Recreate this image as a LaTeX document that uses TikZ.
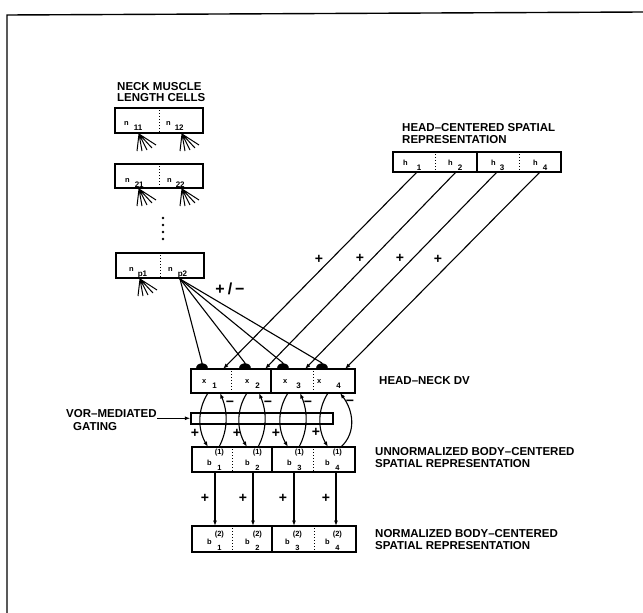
\documentclass[tikz,border=0pt]{standalone}
\usepackage{fontspec}
\setmainfont{Liberation Sans}
\usetikzlibrary{arrows.meta}
\newcommand\cellab[4]{{\fontsize{7.5}{7.5}\selectfont #1}\kern#3pt\raisebox{#4pt}{\fontsize{8}{8}\selectfont #2}}
\newcommand\blab[4]{{\fontsize{7.5}{7.5}\selectfont b}\kern3pt\raisebox{#3pt}{\rlap{\fontsize{7.5}{7.5}\selectfont(#1)}}\kern2.5pt\raisebox{#4pt}{\fontsize{7.5}{7.5}\selectfont #2}}
\begin{document}
\begin{tikzpicture}[x=1pt,y=-1pt,
 lbl/.style={font=\fontsize{11.5}{12}\selectfont\bfseries,inner sep=0,anchor=west},
 ctxt/.style={font=\bfseries,inner sep=0,anchor=base west},
 cellbox/.style={draw,line width=1.6pt,inner sep=0,minimum width=#1},
 conn/.style={line width=1.1pt},
 arr/.style={conn,-{Latex[length=5.5pt,width=4pt]}},
 sgn/.style={font=\fontsize{14}{14}\selectfont\bfseries,inner sep=0},
 divd/.style={dotted,line width=1pt},
 fanl/.style={line width=1pt}]
\useasboundingbox (0,0) rectangle (643,613);
\fill[white] (0,0) rectangle (643,613);
\draw[line width=1.4pt] (643,12) -- (7,15) -- (7,613);

% boxes
\node[cellbox=88pt,minimum height=25pt] (nk1) at (159,120.5) {};
\node[cellbox=88pt,minimum height=24pt] (nk2) at (159,176) {};
\node[cellbox=88pt,minimum height=25pt] (nk3) at (160,265.5) {};
\node[cellbox=84pt,minimum height=20pt] (hdA) at (435,162) {};
\node[cellbox=84pt,minimum height=20pt] (hdB) at (519,162) {};
\node[cellbox=80pt,minimum height=24pt] (dvA) at (231,381) {};
\node[cellbox=84pt,minimum height=24pt] (dvB) at (313,381) {};
\node[cellbox=80pt,minimum height=25pt] (unA) at (232,459.5) {};
\node[cellbox=83pt,minimum height=25pt] (unB) at (313.5,459.5) {};
\node[cellbox=80pt,minimum height=26pt] (noA) at (232,539) {};
\node[cellbox=84pt,minimum height=26pt] (noB) at (314,539) {};
\node[draw,line width=1.4pt,inner sep=0,minimum width=142pt,minimum height=11pt] (gate) at (262,418.5) {};
\foreach \n in {nk1,nk2,nk3,hdA,hdB,dvA,dvB,unA,unB,noA,noB} \draw[divd] (\n.north) -- (\n.south);

% cell labels
\node[ctxt] (ln11) at (124,125.5) {\cellab{n}{11}{5}{-5}};
\node[ctxt] (ln12) at (166,125.5) {\cellab{n}{12}{4}{-5}};
\node[ctxt] (ln21) at (125,182) {\cellab{n}{21}{5}{-5}};
\node[ctxt] (ln22) at (167,182) {\cellab{n}{22}{4}{-5}};
\node[ctxt] (lnp1) at (129,271) {\cellab{n}{p1}{4}{-5}};
\node[ctxt] (lnp2) at (168,271) {\cellab{n}{p2}{5}{-5}};
\node[ctxt] (lh1) at (403,165.5) {\cellab{h}{1}{9}{-5}};
\node[ctxt] (lh2) at (448,165.5) {\cellab{h}{2}{5}{-5}};
\node[ctxt] (lh3) at (491,165.5) {\cellab{h}{3}{4}{-5}};
\node[ctxt] (lh4) at (533,165.5) {\cellab{h}{4}{5}{-5}};
\node[ctxt] (lx1) at (202,383) {\cellab{x}{1}{6}{-5}};
\node[ctxt] (lx2) at (245,383) {\cellab{x}{2}{6}{-5}};
\node[ctxt] (lx3) at (283,383) {\cellab{x}{3}{9}{-5}};
\node[ctxt] (lx4) at (317,383) {\cellab{x}{4}{15}{-5}};
\node[ctxt] (lb1) at (207,465.5) {\blab{1}{1}{11}{-4.5}};
\node[ctxt] (lb2) at (245,465.5) {\blab{1}{2}{11}{-4.5}};
\node[ctxt] (lb3) at (287,465.5) {\blab{1}{3}{11}{-4.5}};
\node[ctxt] (lb4) at (325,465.5) {\blab{1}{4}{11}{-4.5}};
\node[ctxt] (lc1) at (207,544) {\blab{2}{1}{8}{-6}};
\node[ctxt] (lc2) at (245,544) {\blab{2}{2}{8}{-6}};
\node[ctxt] (lc3) at (285,544) {\blab{2}{3}{8}{-6}};
\node[ctxt] (lc4) at (325,544) {\blab{2}{4}{8}{-6}};

% input fans
\foreach \nm/\x/\y in {f11/139/134, f12/182/134, f21/139/189, f22/182/189, fp1/140/279}{
 \coordinate (\nm) at (\x,\y);
 \draw[fanl] (\nm) -- ++(-2,17) (\nm) -- ++(3,17) (\nm) -- ++(8,16) (\nm) -- ++(13,14) (\nm) -- ++(17,11);
}
\foreach \y in {218,225,232,239} \fill (163,\y) circle[radius=1.3];

% neck to DV
\coordinate (np2o) at (180,279);
\foreach \i/\x in {1/202,2/245,3/283,4/322}{
 \coordinate (s\i) at (\x,363);
 \fill (\x-6,369) .. controls (\x-6,361) and (\x+6,361) .. (\x+6,369) -- cycle;
 \draw[conn] (np2o) -- (s\i);
}
% head-centered to DV
\foreach \i/\a/\b in {1/417/223, 2/456/265, 3/497/305, 4/540/345}{
 \coordinate (ho\i) at (\a,172); \coordinate (t\i) at (\b,369);
 \draw[arr] (ho\i) -- (t\i);
}
% DV <-> unnormalized
\foreach \i/\d/\u in {1/208/219, 2/247/258, 3/288/299}{
 \coordinate (dT\i) at (\d,393); \coordinate (dB\i) at (\d,447);
 \coordinate (uB\i) at (\u,447); \coordinate (uT\i) at (\u+1,393);
 \draw[arr] (dT\i) .. controls (\d-11,410) and (\d-10,430) .. (dB\i);
 \draw[arr] (uB\i) .. controls (\u+9,430) and (\u+9,412) .. (uT\i);
}
\coordinate (dT4) at (328,393); \coordinate (dB4) at (328,447);
\coordinate (uB4) at (341,447); \coordinate (uT4) at (340,393);
\draw[arr] (dT4) .. controls (317,410) and (318,430) .. (dB4);
\draw[arr] (uB4) .. controls (357,432) and (353,410) .. (uT4);
% unnormalized -> normalized
\foreach \i/\x in {1/215,2/253,3/294,4/336}{
 \coordinate (vt\i) at (\x,472); \coordinate (vb\i) at (\x,526);
 \draw[arr] (vt\i) -- (vb\i);
}

% signs
\foreach \x/\y in {319/259, 360/258, 400/258, 438/259, 195/433, 237/433, 276/433, 316/432, 205/498, 243/498, 283/498, 326/498}
 \node[sgn] (pl\x) at (\x,\y) {+};
\foreach \x/\y in {230/404, 268/404, 308/404, 350/403}
 \node[sgn] (mi\x) at (\x,\y) {−};
\node[font=\fontsize{16}{16}\selectfont\bfseries,inner sep=0] (pm) at (230,289) {+\kern3pt/\kern3pt−};

% gating
\node[lbl] (gt1) at (66,414) {VOR–MEDIATED};
\node[lbl] (gt2) at (73,427) {GATING};
\draw[arr] (gt1.south east) -- (gate.west |- gt1.south east);

% texts
\node[lbl] (tn1) at (117,87) {NECK MUSCLE};
\node[lbl] (tn2) at (117,97.5) {LENGTH CELLS};
\node[lbl] (th1) at (402,128) {HEAD–CENTERED SPATIAL};
\node[lbl] (th2) at (402,139.5) {REPRESENTATION};
\node[lbl] (tdv) at (379,381) {HEAD–NECK DV};
\node[lbl] (tu1) at (375,452) {UNNORMALIZED BODY–CENTERED};
\node[lbl] (tu2) at (375,463.5) {SPATIAL REPRESENTATION};
\node[lbl] (tb1) at (375,534) {NORMALIZED BODY–CENTERED};
\node[lbl] (tb2) at (375,545.5) {SPATIAL REPRESENTATION};
\end{tikzpicture}
\end{document}
